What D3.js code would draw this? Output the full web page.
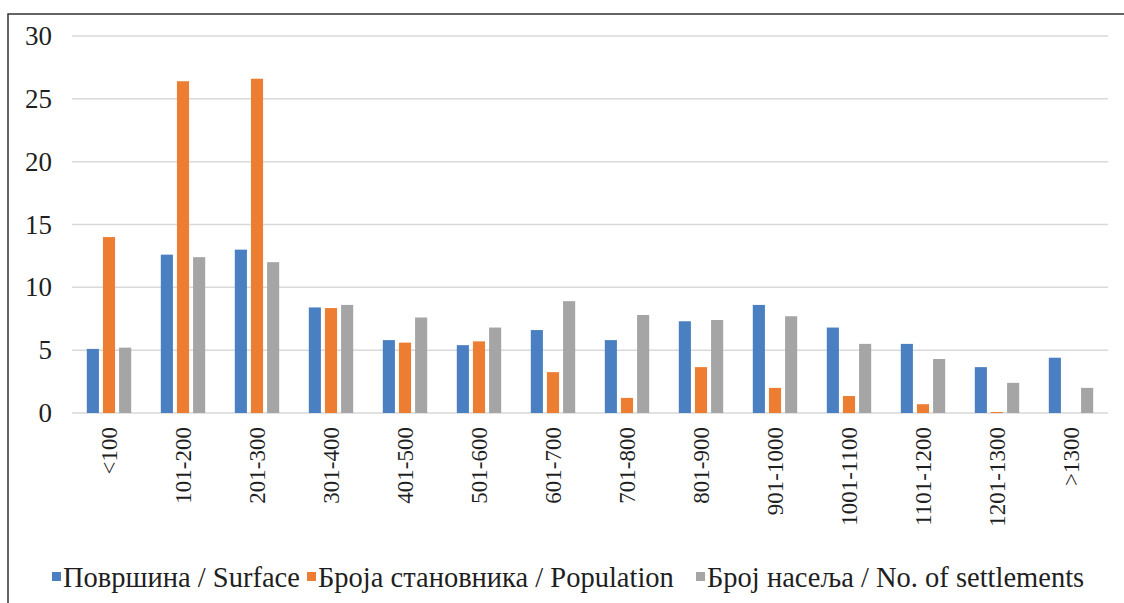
<!DOCTYPE html>
<html>
<head>
<meta charset="utf-8">
<script src="https://cdn.jsdelivr.net/npm/d3@7"></script>
<style>
  html, body { margin: 0; padding: 0; background: #fff; }
  svg { display: block; }
  svg text { font-family: "Liberation Serif", "Times New Roman", "Liberation Sans", sans-serif; fill: #1f1f1f; }
</style>
</head>
<body>
<svg id="chart" width="1124" height="603"></svg>
<script>
// Altitude classes (m)
const categories = ["<100", "101-200", "201-300", "301-400", "401-500", "501-600", "601-700",
  "701-800", "801-900", "901-1000", "1001-1100", "1101-1200", "1201-1300", ">1300"];

// Share per class (%)
const surface = [5.1, 12.6, 13.0, 8.4, 5.8, 5.4, 6.6, 5.8, 7.3, 8.6, 6.8, 5.5, 3.65, 4.4];
const population = [14.0, 26.4, 26.6, 8.35, 5.6, 5.7, 3.25, 1.2, 3.65, 2.0, 1.35, 0.7, 0.08, 0];
const settlements = [5.2, 12.4, 12.0, 8.6, 7.6, 6.8, 8.9, 7.8, 7.4, 7.7, 5.5, 4.3, 2.4, 2.0];

const seriesNames = ["Површина / Surface", "Броја становника / Population", "Број насеља / No. of settlements"];
const seriesColors = ["#4a7fc1", "#ed7d31", "#a5a5a5"];
const yTicks = [0, 5, 10, 15, 20, 25, 30];

const seriesValues = [surface, population, settlements];

const svg = d3.select("#chart");

// outer frame (left and top edges visible, the rest runs off the canvas)
svg.append("rect")
  .attr("x", 8).attr("y", 14)
  .attr("width", 1130).attr("height", 620)
  .attr("fill", "none").attr("stroke", "#333").attr("stroke-width", 1.5);

const plotLeft = 72, plotRight = 1108, plotTop = 36, plotBottom = 413;

const x0 = d3.scaleBand().domain(categories).range([plotLeft, plotRight])
  .paddingInner(0.4).paddingOuter(0.2);
const x1 = d3.scaleBand().domain(d3.range(seriesNames.length)).range([0, x0.bandwidth()])
  .paddingInner(0.25);
const y = d3.scaleLinear().domain([0, 30]).range([plotBottom, plotTop]);

// horizontal grid
svg.append("g")
  .selectAll("line").data(yTicks).join("line")
  .attr("x1", plotLeft).attr("x2", plotRight)
  .attr("y1", d => y(d)).attr("y2", d => y(d))
  .attr("stroke", "#d9d9d9").attr("stroke-width", 1.5);

// y axis labels
const yAxis = svg.append("g")
  .attr("transform", `translate(${plotLeft - 20},0)`)
  .call(d3.axisLeft(y).tickValues(yTicks).tickSize(0).tickPadding(0));
yAxis.attr("font-family", null).attr("font-size", null);
yAxis.select(".domain").remove();
yAxis.selectAll("text")
  .style("font-size", "27px").attr("fill", "#1f1f1f");

// bars
const groups = svg.append("g")
  .selectAll("g").data(categories).join("g")
  .attr("transform", d => `translate(${x0(d)},0)`);

groups.selectAll("rect")
  .data((d, i) => seriesValues.map((vals, s) => ({ s, v: vals[i] })))
  .join("rect")
  .attr("x", d => x1(d.s))
  .attr("width", x1.bandwidth())
  .attr("y", d => y(d.v))
  .attr("height", d => y(0) - y(d.v))
  .attr("fill", d => seriesColors[d.s]);

// x axis labels (rotated)
const xAxis = svg.append("g")
  .attr("transform", `translate(0,${plotBottom + 14})`)
  .call(d3.axisBottom(x0).tickSize(0).tickPadding(0));
xAxis.attr("font-family", null).attr("font-size", null);
xAxis.select(".domain").remove();
xAxis.selectAll("text")
  .style("font-size", "23px").attr("fill", "#1f1f1f")
  .attr("text-anchor", "end")
  .attr("dy", "0.35em")
  .attr("transform", "rotate(-90)")
  .attr("x", 0).attr("y", 0);

// legend
const legend = svg.append("g").attr("transform", "translate(0,577)");
const legendX = [52, 307, 696];
seriesNames.forEach((name, i) => {
  const g = legend.append("g").attr("transform", `translate(${legendX[i]},0)`);
  g.append("rect").attr("x", 0).attr("y", -5).attr("width", 9).attr("height", 9)
    .attr("fill", seriesColors[i]);
  g.append("text").attr("x", 11).attr("y", 0).attr("dy", "0.35em")
    .style("font-size", "28.5px").text(name);
});
</script>
</body>
</html>
